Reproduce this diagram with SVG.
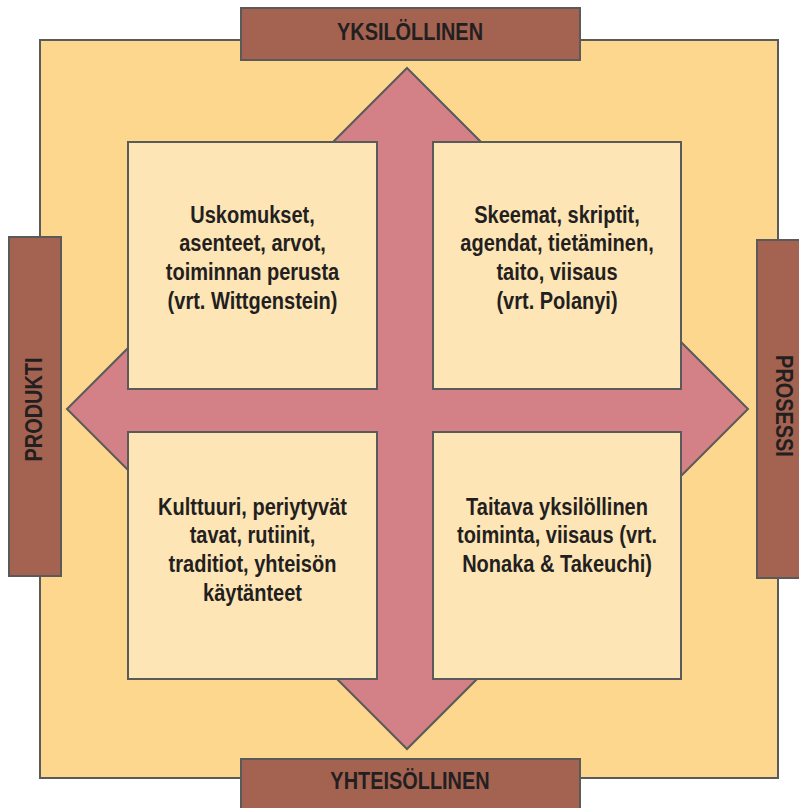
<svg xmlns="http://www.w3.org/2000/svg" width="799" height="808" viewBox="0 0 799 808">
  <style>
    .frame { fill: #FDD78D; stroke: #5a5a5a; stroke-width: 2; }
    .label { fill: #A46350; stroke: #5a5a5a; stroke-width: 2; }
    .arrow { fill: #D38187; stroke: #5a5a5a; stroke-width: 2; stroke-linejoin: miter; }
    .box { fill: #FEE5B6; stroke: #5a5a5a; stroke-width: 2; }
    .lt { font-family: "Liberation Sans", Arial, sans-serif; font-weight: bold; font-size: 24px; fill: #231F20; text-anchor: middle; }
    .bt { font-family: "Liberation Sans", Arial, sans-serif; font-weight: bold; font-size: 23px; fill: #231F20; text-anchor: middle; }
  </style>
  <rect width="799" height="808" fill="#ffffff"/>
  <rect id="frame" class="frame" x="40" y="40" width="738" height="738"/>

  <g id="connectors">
    <polygon class="arrow" points="407,68 537,198 447,198 447,369 618,369 618,279 748,409 618,539 618,449 447,449 447,619 537,619 407,749 277,619 367,619 367,449 197,449 197,539 67,409 197,279 197,369 367,369 367,198 277,198"/>
  </g>

  <g id="label-top">
    <rect class="label" x="241" y="8" width="339" height="52"/>
    <text class="lt" transform="translate(410,40) scale(0.83,1)" x="0" y="0">YKSILÖLLINEN</text>
  </g>
  <g id="label-bottom">
    <rect class="label" x="241" y="759" width="339" height="60"/>
    <text class="lt" transform="translate(410,789) scale(0.83,1)" x="0" y="0">YHTEISÖLLINEN</text>
  </g>
  <g id="label-left">
    <rect class="label" x="9" y="237" width="52" height="339"/>
    <text class="lt" transform="translate(42,409.5) rotate(-90) scale(0.83,1)" x="0" y="0">PRODUKTI</text>
  </g>
  <g id="label-right">
    <rect class="label" x="757" y="240" width="60" height="338"/>
    <text class="lt" transform="translate(776,406) rotate(90) scale(0.83,1)" x="0" y="0">PROSESSI</text>
  </g>

  <g id="box-tl">
    <rect class="box" x="128" y="142" width="249" height="247"/>
    <g transform="translate(252.5,0) scale(0.87,1)">
      <text class="bt" x="0" y="223">Uskomukset,</text>
      <text class="bt" x="0" y="251">asenteet, arvot,</text>
      <text class="bt" x="0" y="280">toiminnan perusta</text>
      <text class="bt" x="0" y="309">(vrt. Wittgenstein)</text>
    </g>
  </g>
  <g id="box-tr">
    <rect class="box" x="433" y="142" width="248" height="247"/>
    <g transform="translate(557,0) scale(0.87,1)">
      <text class="bt" x="0" y="223">Skeemat, skriptit,</text>
      <text class="bt" x="0" y="251">agendat, tietäminen,</text>
      <text class="bt" x="0" y="280">taito, viisaus</text>
      <text class="bt" x="0" y="309">(vrt. Polanyi)</text>
    </g>
  </g>
  <g id="box-bl">
    <rect class="box" x="128" y="432" width="249" height="247"/>
    <g transform="translate(252.5,0) scale(0.87,1)">
      <text class="bt" x="0" y="515">Kulttuuri, periytyvät</text>
      <text class="bt" x="0" y="543">tavat, rutiinit,</text>
      <text class="bt" x="0" y="572">traditiot, yhteisön</text>
      <text class="bt" x="0" y="601">käytänteet</text>
    </g>
  </g>
  <g id="box-br">
    <rect class="box" x="433" y="432" width="248" height="247"/>
    <g transform="translate(557,0) scale(0.87,1)">
      <text class="bt" x="0" y="515">Taitava yksilöllinen</text>
      <text class="bt" x="0" y="543">toiminta, viisaus (vrt.</text>
      <text class="bt" x="0" y="572">Nonaka &amp; Takeuchi)</text>
    </g>
  </g>
</svg>
